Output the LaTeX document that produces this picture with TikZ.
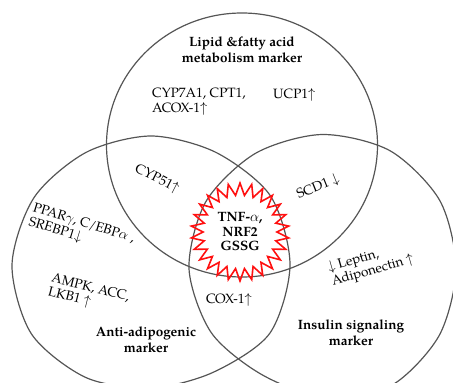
\documentclass[tikz,border=0pt]{standalone}
\usepackage{fontspec}
\setmainfont{TeX Gyre Pagella}
\usetikzlibrary{shapes.geometric}
\definecolor{ringgray}{HTML}{555555}
\definecolor{burstred}{HTML}{FF1010}
\begin{document}
\begin{tikzpicture}[x=1pt, y=-1pt,
    ring/.style={draw=ringgray, line width=1.2pt},
    lbl/.style={font=\fontsize{13.5}{14.5}\selectfont, align=left, inner sep=0pt},
    head/.style={font=\fontsize{13.5}{16}\selectfont\bfseries, align=center, inner sep=0pt},
    burst/.style={star, star points=26, star point ratio=1.33, minimum size=98pt,
        draw=burstred, line width=1.6pt, inner sep=0pt,
        font=\fontsize{13.5}{14.5}\selectfont\bfseries, align=center}]
    \useasboundingbox (0,0) rectangle (453,383);
    \clip (0,0) rectangle (453,383);
    % the three rings
    \draw[ring] (242,145) ellipse [x radius=135.5, y radius=132];
    \draw[ring, shift={(151,265)}] plot[smooth cycle] coordinates {
        (0:139) (30:137) (60:124) (90:123) (120:130) (150:138)
        (180:139) (210:135) (240:130) (270:129) (300:130) (330:138)};
    \draw[ring, shift={(322,268.5)}] plot[smooth cycle] coordinates {
        (0:134) (30:135) (60:136) (90:128) (120:122) (150:128)
        (180:133) (210:134) (240:133) (270:134) (300:136) (330:136)};
    % centre
    \node[burst] (core) at (240,232) {TNF-$\alpha$,\\NRF2\\GSSG};
    % headings
    \node[head] (lipid) at (242,50) {Lipid \&fatty acid\\metabolism marker};
    \node[head] (anti) at (146,340) {Anti-adipogenic\\marker};
    \node[head] (insulin) at (351,333) {Insulin signaling\\marker};
    % markers
    \node[lbl, anchor=north west] (cyp7) at (152,88) {CYP7A1, CPT1,\\ACOX-1$\uparrow$};
    \node[lbl, anchor=north west] (ucp) at (273,88) {UCP1$\uparrow$};
    \node[lbl, rotate=-27] (cyp51) at (157,179) {CYP51$\uparrow$};
    \node[lbl, rotate=22] (scd) at (318,187) {SCD1 $\downarrow$};
    \node[lbl, rotate=-17, anchor=north west] (ppar) at (35,202)
        {PPAR$\gamma$, C/EBP$\alpha$ ,\\SREBP1$\downarrow$};
    \node[lbl, rotate=-14, anchor=north west] (ampk) at (53,272)
        {AMPK, ACC,\\LKB1 $\uparrow$};
    \node[lbl] (cox) at (229,300) {COX-1$\uparrow$};
    \node[lbl, rotate=16, anchor=north west] (leptin) at (326,262)
        {$\downarrow$ Leptin,\\Adiponectin $\uparrow$};
\end{tikzpicture}
\end{document}
